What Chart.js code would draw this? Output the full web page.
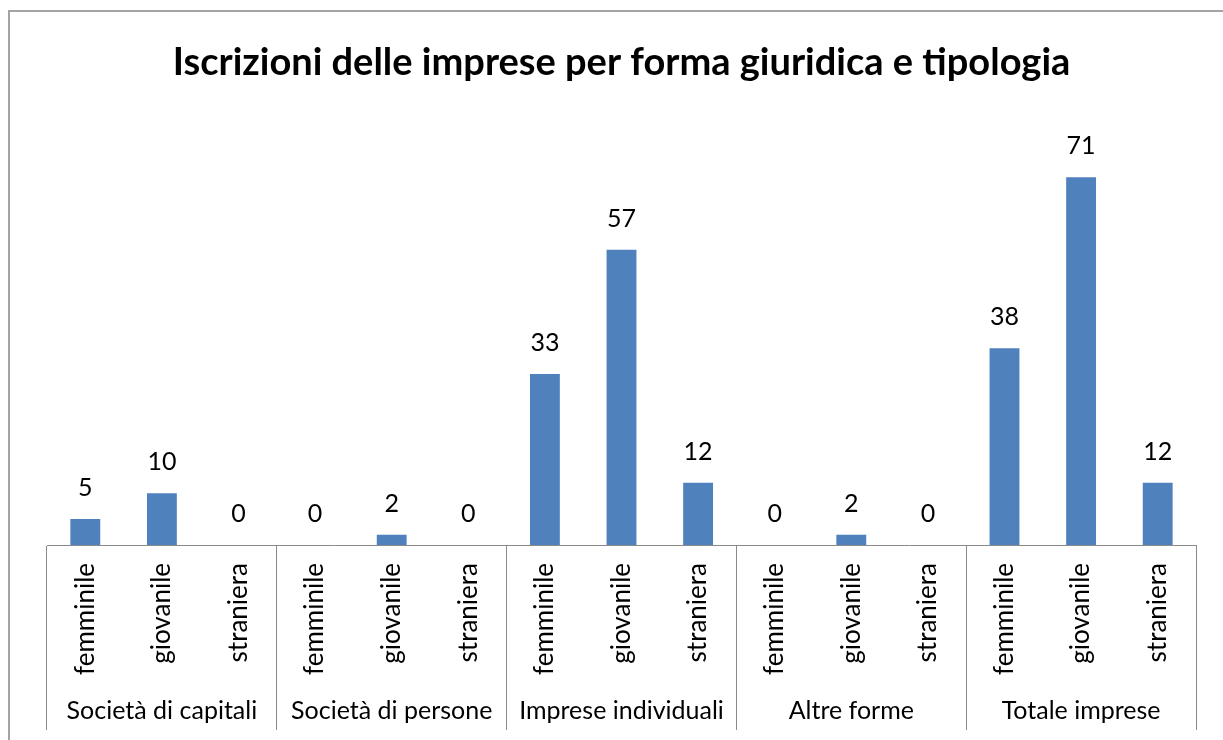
<!DOCTYPE html>
<html>
<head>
<meta charset="utf-8">
<script src="https://cdn.jsdelivr.net/npm/chart.js@4/dist/chart.umd.min.js"></script>
<style>
  body { margin: 0; background: #fff; overflow: hidden; }
  #wrap { position: relative; width: 1223px; height: 740px; }
  #frame { position: absolute; left: 8px; top: 10px; width: 1400px; height: 900px;
           border-left: 2px solid #a3a3a3; border-top: 2px solid #a3a3a3; }
  #chart { position: absolute; left: 0; top: 0; }
</style>
</head>
<body>
<div id="wrap">
  <div id="frame"></div>
  <canvas id="chart" width="1223" height="740"></canvas>
</div>
<script>
// Data
var tipologie = ['femminile', 'giovanile', 'straniera',
                 'femminile', 'giovanile', 'straniera',
                 'femminile', 'giovanile', 'straniera',
                 'femminile', 'giovanile', 'straniera',
                 'femminile', 'giovanile', 'straniera'];
var formeGiuridiche = ['Società di capitali', 'Società di persone', 'Imprese individuali', 'Altre forme', 'Totale imprese'];
var iscrizioni = [5, 10, 0, 0, 2, 0, 33, 57, 12, 0, 2, 0, 38, 71, 12];

var font = 'Lato';
var lineColor = '#8a8a8a';

// value labels above bars
var valueLabels = {
  id: 'valueLabels',
  afterDatasetsDraw: function (chart) {
    var ctx = chart.ctx;
    var meta = chart.getDatasetMeta(0);
    ctx.save();
    ctx.font = '25px ' + font;
    ctx.fillStyle = '#000';
    ctx.textAlign = 'center';
    ctx.textBaseline = 'alphabetic';
    meta.data.forEach(function (bar, i) {
      ctx.fillText(String(iscrizioni[i]), bar.x, bar.y - 23);
    });
    ctx.restore();
  }
};

var chart = new Chart(document.getElementById('chart'), {
  type: 'bar',
  data: {
    labels: tipologie,
    datasets: [{
      data: iscrizioni,
      backgroundColor: '#4f81bd',
      barPercentage: 0.39,
      categoryPercentage: 1
    }]
  },
  options: {
    responsive: false,
    animation: false,
    devicePixelRatio: 1,
    layout: { padding: { left: 47, right: 27, top: 0, bottom: 10 } },
    plugins: {
      legend: { display: false },
      tooltip: { enabled: false },
      title: {
        display: true,
        text: 'Iscrizioni delle imprese per forma giuridica e tipologia',
        color: '#000',
        font: { family: font, size: 38, weight: 'bold' },
        padding: { top: 40, bottom: 45 }
      }
    },
    scales: {
      y: { display: false, min: 0, max: 80 },
      x: {
        offset: true,
        grid: {
          offset: true,
          drawOnChartArea: false,
          drawTicks: true,
          tickLength: 185,
          lineWidth: 1,
          color: function (c) {
            if (c.type !== 'tick' || c.index % 3 === 0) return lineColor;
            return 'rgba(0,0,0,0)';
          }
        },
        border: { display: true, color: lineColor, width: 1 },
        ticks: {
          autoSkip: false,
          minRotation: 90,
          maxRotation: 90,
          padding: -167,
          color: '#000',
          font: { family: font, size: 26 }
        },
        afterFit: function (s) { s.height = 130; }
      },
      x2: {
        type: 'category',
        labels: formeGiuridiche,
        position: 'bottom',
        offset: true,
        grid: { display: false, drawTicks: false },
        border: { display: false },
        ticks: {
          autoSkip: false,
          maxRotation: 0,
          padding: 21,
          color: '#000',
          font: { family: font, size: 25 }
        },
        afterFit: function (s) { s.height = 55; }
      }
    }
  },
  plugins: [valueLabels]
});
</script>
</body>
</html>
